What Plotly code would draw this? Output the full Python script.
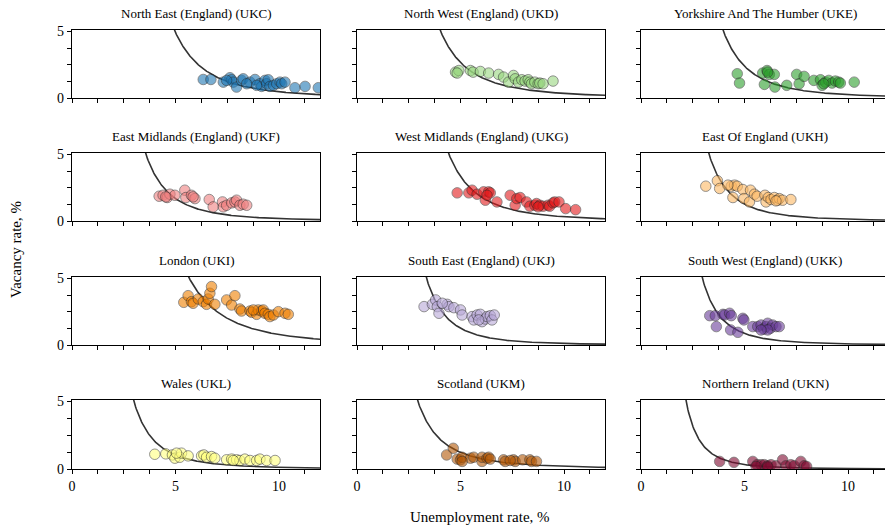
import numpy as np
import plotly.graph_objects as go

regions = ["North East (England) (UKC)", "North West (England) (UKD)", "Yorkshire And The Humber (UKE)",
           "East Midlands (England) (UKF)", "West Midlands (England) (UKG)", "East Of England (UKH)",
           "London (UKI)", "South East (England) (UKJ)", "South West (England) (UKK)",
           "Wales (UKL)", "Scotland (UKM)", "Northern Ireland (UKN)"]
colors = ["#1f77b4", "#98d77f", "#2ca02c", "#f08080", "#e31a1c", "#fdb863",
          "#f07f00", "#b8a8d8", "#6a3d9a", "#ffff80", "#b35806", "#7f0a30"]

# fitted Beveridge curve v = k * u^(-a) per region
curve_k = [1169, 312, 446, 305, 796, 242, 1454, 335, 193, 144, 87.2, 64.1]
curve_a = [3.40, 2.96, 3.25, 3.23, 3.40, 3.26, 3.27, 3.47, 3.36, 3.07, 2.65, 3.28]

u_ukc = [6.34, 6.71, 7.31, 7.63, 7.71, 7.79, 7.95, 8.19, 8.27, 8.60, 8.84, 9.08, 9.16, 9.32, 9.40, 9.48, 9.56, 9.73, 9.89, 10.05, 10.13, 10.29, 10.77, 11.26, 11.90, 8.92, 8.44, 7.47]
v_ukc = [1.39, 1.39, 1.19, 1.52, 1.37, 1.19, 0.82, 1.32, 1.44, 1.19, 1.39, 1.07, 0.87, 1.32, 1.07, 1.37, 0.87, 0.95, 1.07, 1.19, 1.07, 1.19, 0.77, 0.87, 0.77, 0.95, 1.07, 1.32]
u_ukd = [4.76, 4.92, 4.84, 5.48, 5.61, 5.96, 6.36, 6.84, 7.08, 7.32, 7.56, 7.64, 7.80, 7.96, 8.12, 8.27, 8.35, 8.43, 8.59, 8.75, 8.83, 8.99, 9.47]
v_ukd = [1.94, 2.06, 1.87, 2.06, 1.94, 1.99, 1.87, 1.77, 1.57, 1.19, 1.69, 1.44, 1.19, 1.37, 1.27, 1.37, 1.19, 1.07, 1.19, 1.07, 1.12, 1.07, 1.27]
u_uke = [4.65, 4.76, 5.88, 5.96, 6.09, 6.20, 6.44, 6.47, 7.04, 7.52, 7.64, 7.88, 8.35, 8.67, 8.75, 8.91, 9.07, 9.23, 9.39, 9.55, 9.63, 10.30, 6.12, 8.83]
v_uke = [1.82, 1.12, 1.87, 1.02, 2.06, 1.77, 1.77, 0.82, 0.95, 1.77, 1.07, 1.62, 1.32, 1.37, 0.95, 1.19, 1.32, 1.12, 1.27, 1.19, 1.12, 1.19, 1.94, 1.07]
u_ukf = [4.21, 4.40, 4.60, 4.73, 4.97, 5.45, 5.50, 5.77, 5.94, 6.63, 6.82, 7.27, 7.31, 7.47, 7.71, 7.87, 7.95, 8.11, 8.27, 8.44, 4.53, 5.85]
v_ukf = [1.86, 1.93, 1.76, 2.01, 1.93, 2.31, 1.76, 1.93, 1.68, 1.61, 1.06, 1.43, 1.06, 1.18, 1.36, 1.43, 1.56, 1.18, 1.26, 1.18, 1.81, 1.81]
u_ukg = [4.84, 5.40, 5.56, 5.80, 6.12, 6.20, 6.36, 6.44, 6.76, 7.40, 7.64, 7.72, 7.88, 8.19, 8.35, 8.59, 8.67, 8.83, 8.99, 9.23, 9.31, 9.47, 9.55, 9.76, 10.08, 10.56, 6.28, 8.75]
v_ukg = [2.11, 2.11, 2.31, 2.01, 2.19, 1.56, 2.19, 2.11, 1.43, 1.93, 1.18, 1.68, 1.76, 1.43, 1.11, 1.18, 1.31, 1.18, 1.11, 1.18, 1.11, 1.36, 1.43, 1.43, 0.93, 0.85, 1.93, 1.06]
u_ukh = [3.13, 3.69, 3.80, 4.36, 4.52, 4.44, 4.65, 4.92, 4.97, 5.24, 5.29, 5.48, 5.61, 5.99, 6.04, 6.15, 6.28, 6.44, 6.60, 6.68, 6.84, 7.24, 4.20, 6.52]
v_ukh = [2.61, 3.02, 2.44, 2.61, 2.69, 1.76, 2.61, 2.36, 1.68, 1.43, 2.31, 2.01, 1.86, 1.93, 1.43, 1.76, 1.61, 1.76, 1.56, 1.68, 1.56, 1.61, 2.69, 1.51]
u_uki = [5.40, 5.61, 5.77, 5.85, 6.10, 6.34, 6.50, 6.58, 6.66, 6.74, 6.90, 7.47, 7.71, 7.87, 8.11, 8.19, 8.60, 8.68, 8.92, 9.00, 9.16, 9.24, 9.32, 9.48, 9.56, 9.73, 9.97, 10.29, 10.45, 8.76]
v_uki = [3.20, 3.70, 3.25, 3.13, 3.45, 3.25, 3.05, 3.45, 3.88, 4.38, 3.05, 3.38, 3.00, 3.70, 2.70, 2.55, 2.55, 2.45, 2.30, 2.63, 2.55, 2.63, 2.38, 2.30, 2.13, 2.25, 2.50, 2.38, 2.30, 2.63]
u_ukj = [3.24, 3.64, 3.80, 3.88, 3.96, 4.36, 4.44, 4.68, 5.00, 5.08, 5.56, 5.64, 5.80, 5.96, 6.04, 6.20, 6.28, 6.44, 6.52, 6.63, 4.12, 5.88]
v_ukj = [2.88, 3.05, 3.38, 2.88, 2.38, 3.05, 2.88, 2.80, 2.63, 2.25, 2.13, 1.88, 2.25, 2.30, 1.75, 1.95, 2.13, 2.20, 1.88, 2.25, 3.13, 1.88]
u_ukk = [3.32, 3.59, 3.64, 3.96, 4.04, 4.28, 4.36, 4.33, 4.68, 4.92, 4.97, 5.40, 5.64, 5.80, 5.93, 6.04, 6.12, 6.25, 6.36, 6.52, 6.68, 6.12, 5.80]
v_ukk = [2.20, 2.20, 1.38, 2.30, 2.25, 2.38, 2.20, 1.13, 0.95, 2.00, 1.88, 1.38, 1.38, 1.50, 1.20, 1.38, 1.63, 1.25, 1.50, 1.38, 1.38, 1.13, 1.13]
u_ukl = [4.00, 4.53, 4.85, 4.97, 5.21, 5.29, 5.61, 6.26, 6.37, 6.50, 6.74, 6.90, 7.47, 7.71, 7.95, 8.11, 8.35, 8.60, 8.92, 9.08, 9.40, 9.81, 5.05, 7.79]
v_ukl = [1.09, 1.12, 1.04, 0.80, 0.87, 1.17, 0.97, 0.97, 1.04, 0.87, 0.92, 0.80, 0.68, 0.73, 0.68, 0.63, 0.73, 0.63, 0.63, 0.73, 0.63, 0.63, 1.17, 0.63]
u_ukm = [4.33, 4.65, 4.84, 5.00, 5.08, 5.48, 5.64, 6.04, 6.04, 6.28, 6.36, 6.44, 7.08, 7.16, 7.56, 7.64, 8.00, 8.35, 8.43, 8.67, 5.08, 7.40]
v_ukm = [1.04, 1.53, 0.73, 0.68, 0.87, 0.80, 0.87, 0.56, 0.87, 0.80, 0.87, 0.73, 0.68, 0.56, 0.68, 0.56, 0.68, 0.68, 0.56, 0.56, 0.56, 0.63]
u_ukn = [3.80, 4.49, 5.40, 5.61, 5.80, 5.96, 6.12, 6.28, 6.52, 6.84, 7.00, 7.24, 7.40, 7.72, 7.88, 8.00, 5.56, 6.12]
v_ukn = [0.56, 0.49, 0.56, 0.32, 0.32, 0.32, 0.24, 0.32, 0.24, 0.68, 0.24, 0.32, 0.24, 0.56, 0.24, 0.19, 0.19, 0.15]

u_data = [u_ukc, u_ukd, u_uke, u_ukf, u_ukg, u_ukh, u_uki, u_ukj, u_ukk, u_ukl, u_ukm, u_ukn]
v_data = [v_ukc, v_ukd, v_uke, v_ukf, v_ukg, v_ukh, v_uki, v_ukj, v_ukk, v_ukl, v_ukm, v_ukn]

x_ticks = [0, 1.25, 2.5, 3.75, 5, 6.25, 7.5, 8.75, 10, 11.25]
x_text = ["0", "", "", "", "5", "", "", "", "10", ""]
y_ticks = [0, 1.25, 2.5, 3.75, 5]
y_text = ["0", "", "", "", "5"]

W, H = 885, 525
col_px = [(72, 320), (357, 605), (641, 885)]
row_px = [(30, 98), (153, 221), (277, 345), (400, 469)]
px_per_unit = 20.7

FONT = "Liberation Serif"
fig = go.Figure()
layout = {}
annotations = []
for i in range(12):
    r, c = divmod(i, 3)
    n = "" if i == 0 else str(i + 1)
    x0p, x1p = col_px[c]
    y0p, y1p = row_px[r]
    xmax = (x1p - x0p) / px_per_unit
    xd = [x0p / W, x1p / W]
    yd = [1 - y1p / H, 1 - y0p / H]
    ukey = np.linspace((curve_k[i] / 6.0) ** (1 / curve_a[i]), 12.5, 300)
    fig.add_trace(go.Scatter(x=ukey, y=curve_k[i] * ukey ** (-curve_a[i]), mode="lines",
                             line=dict(color="#333333", width=1.6), xaxis="x" + n, yaxis="y" + n,
                             showlegend=False, hoverinfo="skip"))
    fig.add_trace(go.Scatter(x=u_data[i], y=v_data[i], mode="markers",
                             marker=dict(size=10.5, color=colors[i], opacity=0.6,
                                         line=dict(color="#222222", width=0.8)),
                             xaxis="x" + n, yaxis="y" + n, showlegend=False))
    common = dict(showline=True, linecolor="black", linewidth=1.2, mirror=True, ticks="outside",
                  ticklen=4, tickwidth=1, tickcolor="black", showgrid=False, zeroline=False,
                  automargin=False,
                  tickfont=dict(family=FONT, size=14, color="black"), tickmode="array")
    layout["xaxis" + n] = dict(common, domain=xd, range=[0, xmax], anchor="y" + n,
                               tickvals=x_ticks, ticktext=x_text if r == 3 else [""] * len(x_ticks))
    layout["yaxis" + n] = dict(common, domain=yd, range=[0, 5.1], anchor="x" + n,
                               tickvals=y_ticks, ticktext=y_text if c == 0 else [""] * len(y_ticks))
    annotations.append(dict(text=regions[i], x=(x0p + (x0p + 12 * px_per_unit)) / 2 / W, y=1 - (y0p - 7) / H,
                            xref="paper", yref="paper", xanchor="center", yanchor="bottom",
                            showarrow=False, font=dict(family=FONT, size=13, color="black")))

annotations.append(dict(text="Vacancy rate, %", x=16 / W, y=1 - 250 / H, xref="paper", yref="paper",
                        textangle=-90, showarrow=False, xanchor="center", yanchor="middle",
                        font=dict(family=FONT, size=15, color="black")))
annotations.append(dict(text="Unemployment rate, %", x=480 / W, y=1 - 517 / H, xref="paper", yref="paper",
                        showarrow=False, xanchor="center", yanchor="middle",
                        font=dict(family=FONT, size=15, color="black")))

fig.update_layout(width=W, height=H, margin=dict(l=0, r=0, t=0, b=0), plot_bgcolor="white",
                  paper_bgcolor="white", annotations=annotations, **layout)
fig.write_html("out.html")
